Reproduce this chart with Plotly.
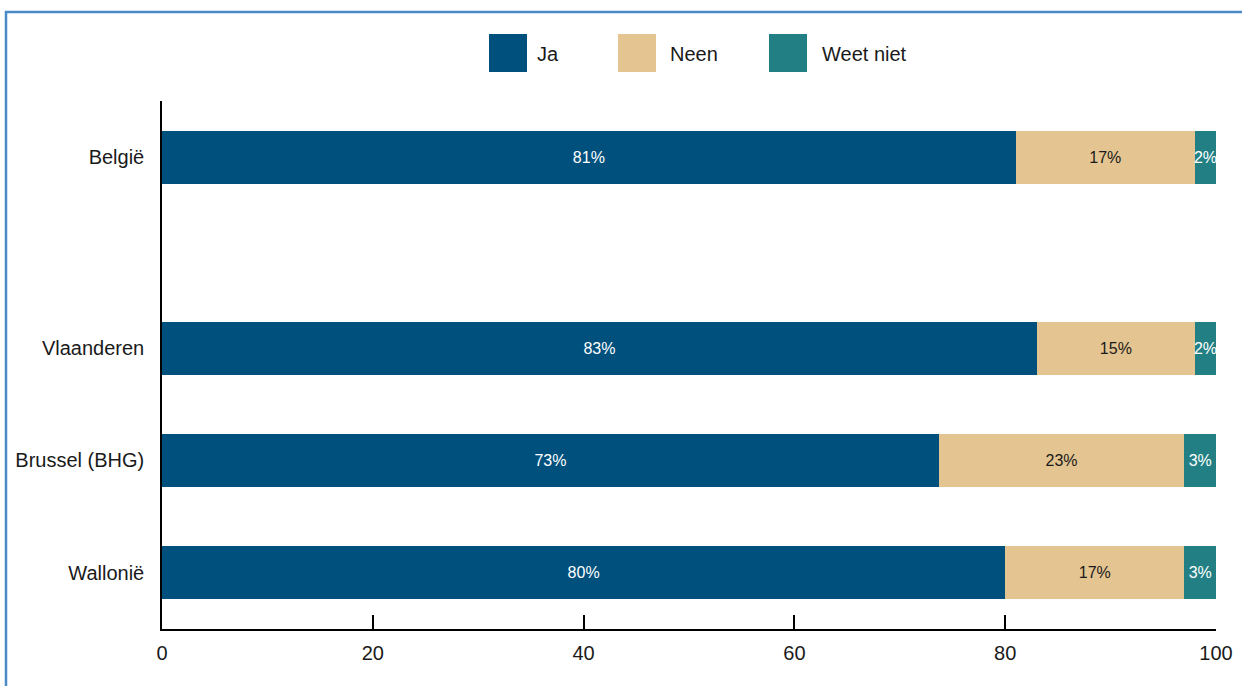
import plotly.graph_objects as go

regions = ["België", "Vlaanderen", "Brussel (BHG)", "Wallonië"]
ja = [81, 83, 73.7, 80]
neen = [17, 15, 23.3, 17]
weet_niet = [2, 2, 3, 3]
ja_labels = ["81%", "83%", "73%", "80%"]
neen_labels = ["17%", "15%", "23%", "17%"]
wn_labels = ["2%", "2%", "3%", "3%"]
x_ticks = [0, 20, 40, 60, 80, 100]

# layout positions of the rows (gap after België)
ypos = [3.7, 2, 1, 0]

FONT = "Liberation Sans, Arial, sans-serif"
C_JA = "#00507d"
C_NEEN = "#e4c591"
C_WN = "#228084"

fig = go.Figure()
series = [
    ("Ja", ja, ja_labels, C_JA, "white"),
    ("Neen", neen, neen_labels, C_NEEN, "#1a1a1a"),
    ("Weet niet", weet_niet, wn_labels, C_WN, "white"),
]
for name, vals, labs, col, tcol in series:
    fig.add_trace(go.Bar(
        name=name, y=ypos, x=vals, orientation="h", width=0.47,
        marker=dict(color=col, line=dict(width=0)),
        text=labs, textposition="inside", insidetextanchor="middle",
        constraintext="none", textangle=0,
        textfont=dict(family=FONT, size=16, color=tcol),
        showlegend=False, hoverinfo="skip",
    ))

W, H = 1242, 686
L, R, T, B = 162, 26, 101, 57
pw, ph = W - L - R, H - T - B

def px(x):
    return (x - L) / pw

def py(y):
    return (H - B - y) / ph

shapes = []
annotations = []
legend_items = [("Ja", C_JA, 489, 535), ("Neen", C_NEEN, 618, 668), ("Weet niet", C_WN, 769, 820)]
for name, col, bx, tx in legend_items:
    shapes.append(dict(type="rect", xref="paper", yref="paper",
                       x0=px(bx), x1=px(bx + 38), y0=py(72), y1=py(34),
                       fillcolor=col, line=dict(width=0)))
    annotations.append(dict(xref="paper", yref="paper", x=px(tx), y=py(54),
                            text=name, showarrow=False, xanchor="left", yanchor="middle",
                            font=dict(family=FONT, size=20, color="#1a1a1a")))

# outer border
shapes.append(dict(type="rect", xref="paper", yref="paper",
                   x0=px(6), x1=px(1260), y0=py(700), y1=py(12),
                   line=dict(color="#4a8ac8", width=2.5), fillcolor="rgba(0,0,0,0)"))

fig.update_layout(
    barmode="stack",
    width=W, height=H,
    margin=dict(l=L, r=R, t=T, b=B, pad=0, autoexpand=False),
    paper_bgcolor="white", plot_bgcolor="white",
    font=dict(family=FONT, size=20, color="#1a1a1a"),
    shapes=shapes, annotations=annotations,
    xaxis=dict(range=[0, 100], tickvals=x_ticks, ticktext=[str(v) for v in x_ticks],
               ticks="inside", ticklen=14, tickwidth=1.5, tickcolor="black",
               showline=True, linecolor="black", linewidth=1.5,
               showgrid=False, zeroline=False, fixedrange=True, automargin=False,
               tickfont=dict(family=FONT, size=20, color="#1a1a1a"),
               ticklabelstandoff=5),
    yaxis=dict(range=[-0.5, 4.2], tickvals=ypos, ticktext=regions,
               ticks="", showline=True, linecolor="black", linewidth=1.5,
               showgrid=False, zeroline=False, fixedrange=True, automargin=False,
               tickfont=dict(family=FONT, size=20, color="#1a1a1a"),
               ticklabelstandoff=12),
)

fig.write_html("out.html")
